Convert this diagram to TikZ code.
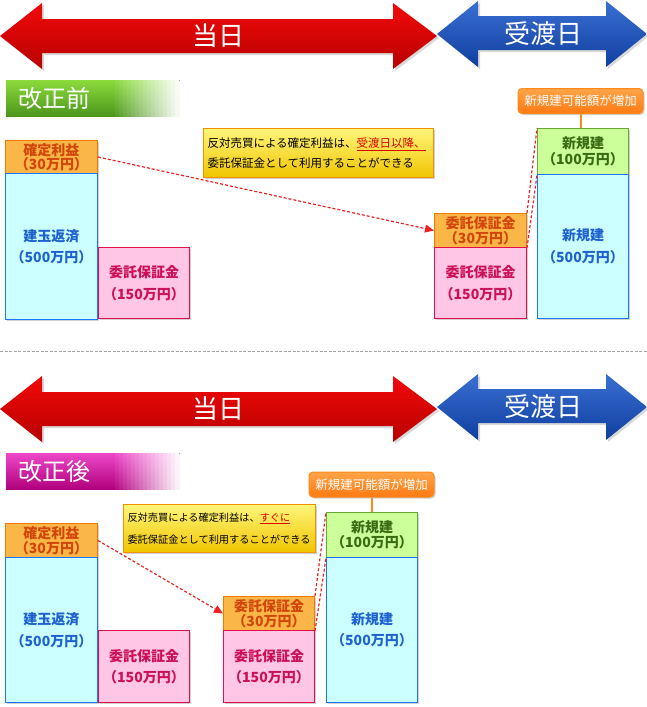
\documentclass[tikz,border=0pt]{standalone}
\usepackage{fontspec}
\setmainfont{Noto Sans CJK JP}
\usetikzlibrary{arrows.meta,shadows}
\definecolor{rTop}{HTML}{F20A0A}
\definecolor{rBot}{HTML}{B80000}
\definecolor{bTop}{HTML}{3A6FD2}
\definecolor{bBot}{HTML}{0F3FA0}
\definecolor{gTopH}{HTML}{8CDB3C}
\definecolor{gBotH}{HTML}{4C961C}
\definecolor{mTopH}{HTML}{EC48C8}
\definecolor{mBotH}{HTML}{B2007E}
\definecolor{oFill}{HTML}{FAB646}
\definecolor{oBord}{HTML}{F07A00}
\definecolor{oText}{HTML}{D2460E}
\definecolor{cFill}{HTML}{CCFFFF}
\definecolor{cBord}{HTML}{1A75FF}
\definecolor{cText}{HTML}{1E62D0}
\definecolor{pFill}{HTML}{FFC6E6}
\definecolor{pBord}{HTML}{E0104A}
\definecolor{pText}{HTML}{CC1056}
\definecolor{gFill}{HTML}{CCFF99}
\definecolor{gBord}{HTML}{66AA33}
\definecolor{gText}{HTML}{3A6A12}
\definecolor{yTop}{HTML}{FFF67A}
\definecolor{yBot}{HTML}{F0C400}
\definecolor{yBord}{HTML}{F29200}
\definecolor{sTop}{HTML}{FFA448}
\definecolor{sBot}{HTML}{FF7A12}
\definecolor{sBord}{HTML}{FF8A1A}
\definecolor{dRed}{HTML}{EE2222}
\definecolor{sepGray}{HTML}{A8A2A2}
\begin{document}
\begin{tikzpicture}[x=1pt,y=-1pt,
  shadowed/.style={drop shadow={shadow xshift=1.5pt, shadow yshift=-1.5pt, opacity=0.3, fill=black!60}},
  box/.style={draw, line width=1pt, minimum width=92pt, anchor=north west, inner sep=0pt, align=center, shadowed},
  obox/.style={box, draw=oBord, fill=oFill, text=oText, font=\bfseries\fontsize{14}{14.5}\selectfont},
  cbox/.style={box, draw=cBord, fill=cFill, text=cText, font=\bfseries\fontsize{14}{21.5}\selectfont},
  pbox/.style={box, draw=pBord, fill=pFill, text=pText, font=\bfseries\fontsize{14}{21.5}\selectfont},
  gbox/.style={box, draw=gBord, fill=gFill, text=gText, font=\bfseries\fontsize{14}{15.5}\selectfont},
  callout/.style={draw=yBord, line width=1pt, top color=yTop, bottom color=yBot, anchor=north west, inner xsep=4pt, inner ysep=0pt, align=left, shadowed},
  smallcall/.style={draw=sBord, line width=1pt, top color=sTop, bottom color=sBot, rounded corners=4pt, minimum width=125pt, minimum height=25pt, inner sep=0pt, text=white, font=\fontsize{12.5}{13}\selectfont, shadowed},
  stem/.style={draw=sBord, line width=2pt},
  conn/.style={draw=dRed, line width=1.2pt, dash pattern=on 3pt off 2pt},
  connarrow/.style={conn, -{Triangle[length=9pt,width=8pt]}},
  arrowtext/.style={text=white, font=\fontsize{26}{26}\selectfont},
  hdrtext/.style={text=white, anchor=west, font=\fontsize{24}{24}\selectfont},
  redarrowshape/.style={top color=rTop, bottom color=rBot, drop shadow={shadow xshift=2pt, shadow yshift=-2pt, opacity=0.25, fill=black!60}},
  bluearrowshape/.style={top color=bTop, bottom color=bBot, drop shadow={shadow xshift=2pt, shadow yshift=-2pt, opacity=0.25, fill=black!60}}
]
\useasboundingbox (0,0) rectangle (647,707);

% ===== Section 1 : arrows =====
\path[redarrowshape] (0,36) -- (42,3) -- (42,19) -- (393,19) -- (393,3) -- (437,36) -- (393,69) -- (393,53) -- (42,53) -- (42,69) -- cycle;
\path[bluearrowshape] (437,34) -- (478,1) -- (478,16) -- (606,16) -- (606,1) -- (647,34) -- (606,67) -- (606,50) -- (478,50) -- (478,67) -- cycle;
\node[arrowtext] (toujitsu1) at (218,36) {当日};
\node[arrowtext] (ukewatashi1) at (543,34) {受渡日};

% header 1
\fill[top color=gTopH, bottom color=gBotH] (6,80) rectangle (115.5,116);
\foreach \i in {0,...,15} {
  \pgfmathsetmacro\p{100-100*(\i+1)/17}
  \fill[top color=gTopH!\p!white, bottom color=gBotH!\p!white] ({115+4*\i},80) rectangle ({119.5+4*\i},116);
}
\node[hdrtext] (kaisei1) at (15,98) {改正前};

% boxes 1
\node[obox, minimum height=33pt] (kaku1) at (5,140) {確定利益\\（30万円）};
\node[cbox, minimum height=146pt] (tate1) at (5,173) {建玉返済\\（500万円）};
\node[pbox, minimum width=91pt, minimum height=71pt] (itaku1) at (98,247) {委託保証金\\（150万円）};
\node[callout, text width=222pt, minimum height=49pt, font=\fontsize{11.5}{20}\selectfont] (call1) at (203,128)
  {反対売買による確定利益は、\textcolor{red!85!black}{\underline{受渡日以降、}}\\委託保証金として利用することができる};
\node[obox, minimum height=34pt] (ita30a) at (434,213) {委託保証金\\（30万円）};
\node[pbox, minimum height=71pt] (ita150a) at (434,247) {委託保証金\\（150万円）};
\node[gbox, minimum width=91pt, minimum height=46pt] (shin100a) at (537,128) {新規建\\（100万円）};
\node[cbox, minimum width=91pt, minimum height=144pt] (shin500a) at (537,174) {新規建\\（500万円）};
\node[smallcall] (zouka1) at (580.5,101) {新規建可能額が増加};
\draw[stem] (zouka1.south) -- (zouka1.south |- shin100a.north);

\draw[connarrow] (kaku1.east) -- (ita30a.west);
\draw[conn] (ita30a.north east) -- (shin100a.north west);
\draw[conn] (ita30a.south east) -- (shin100a.south west);

% separator
\coordinate (sepL) at (0,351);
\coordinate (sepR) at (647,351);
\draw[sepGray, line width=1pt, dash pattern=on 3pt off 1.5pt] (sepL) -- (sepR);

% ===== Section 2 : arrows =====
\begin{scope}[shift={(0,373)}]
\path[redarrowshape] (0,36) -- (42,3) -- (42,19) -- (393,19) -- (393,3) -- (437,36) -- (393,69) -- (393,53) -- (42,53) -- (42,69) -- cycle;
\path[bluearrowshape] (437,34) -- (478,1) -- (478,16) -- (606,16) -- (606,1) -- (647,34) -- (606,67) -- (606,50) -- (478,50) -- (478,67) -- cycle;
\node[arrowtext] (toujitsu2) at (218,36) {当日};
\node[arrowtext] (ukewatashi2) at (543,34) {受渡日};
\fill[top color=mTopH, bottom color=mBotH] (6,80) rectangle (115.5,116);
\foreach \i in {0,...,15} {
  \pgfmathsetmacro\p{100-100*(\i+1)/17}
  \fill[top color=mTopH!\p!white, bottom color=mBotH!\p!white] ({115+4*\i},80) rectangle ({119.5+4*\i},116);
}
\node[hdrtext] (kaisei2) at (15,98) {改正後};
\end{scope}

% boxes 2
\node[obox, minimum height=34pt] (kaku2) at (5,523) {確定利益\\（30万円）};
\node[cbox, minimum height=145pt] (tate2) at (5,557) {建玉返済\\（500万円）};
\node[pbox, minimum width=91pt, minimum height=72pt] (itaku2) at (98,630) {委託保証金\\（150万円）};
\node[callout, text width=184pt, minimum height=48pt, font=\fontsize{10.2}{22}\selectfont] (call2) at (123,504)
  {反対売買による確定利益は、\textcolor{red!85!black}{\underline{すぐに}}\\委託保証金として利用することができる};
\node[obox, minimum width=91pt, minimum height=34pt] (ita30b) at (223,596) {委託保証金\\（30万円）};
\node[pbox, minimum width=91pt, minimum height=72pt] (ita150b) at (223,630) {委託保証金\\（150万円）};
\node[gbox, minimum width=91pt, minimum height=45pt] (shin100b) at (326,512) {新規建\\（100万円）};
\node[cbox, minimum width=91pt, minimum height=145pt] (shin500b) at (326,557) {新規建\\（500万円）};
\node[smallcall] (zouka2) at (371.5,484.5) {新規建可能額が増加};
\draw[stem] (zouka2.south) -- (zouka2.south |- shin100b.north);

\draw[connarrow] (kaku2.east) -- (ita30b.west);
\draw[conn] (ita30b.north east) -- (shin100b.north west);
\draw[conn] (ita30b.south east) -- (shin100b.south west);
\end{tikzpicture}
\end{document}
